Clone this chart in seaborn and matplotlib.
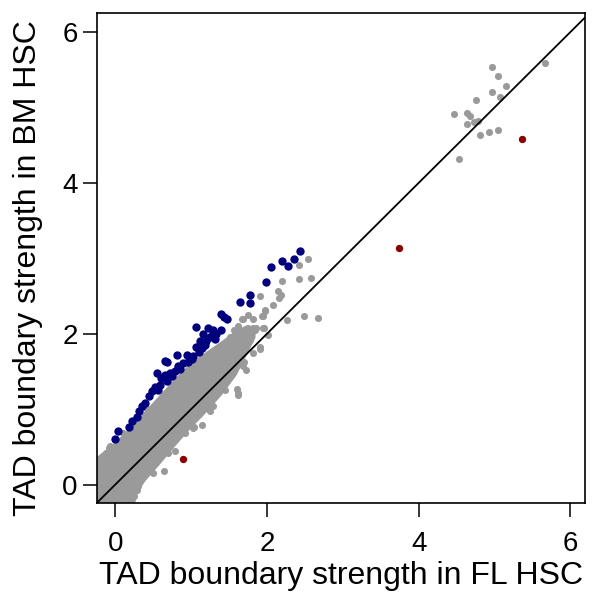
import numpy as np
import pandas as pd
import matplotlib
matplotlib.use("Agg")
import matplotlib.pyplot as plt
import seaborn as sns

# dense core of the grey cloud (outline)
band_x = [-0.3, -0.2, 0.0, 0.2, 0.4, 0.6, 0.8, 1.0, 1.2, 1.4, 1.6, 1.75, 1.85,
          1.85, 1.6, 1.4, 1.15, 1.0, 0.8, 0.6, 0.4, 0.3, 0.25, -0.3]
band_y = [0.32, 0.40, 0.56, 0.76, 0.98, 1.20, 1.42, 1.62, 1.76, 1.90, 2.05, 2.12, 2.08,
          1.95, 1.45, 1.18, 0.90, 0.75, 0.52, 0.28, 0.05, -0.10, -0.30, -0.30]

# grey boundaries outside the core
grey_x = [2.54, 2.42, 2.42, 2.58, 2.20, 2.14, 2.16, 1.91, 2.08, 1.98, 1.93, 1.75, 1.67,
          2.27, 2.49, 1.96, 1.82, 1.91, 1.61, 1.62, 1.04, 0.79, 0.64, 0.30, 0.25, -0.08,
          -0.20, 2.18, 1.97, 1.95, 1.82, 1.69, 1.62, 1.56, 1.73, 1.84, 1.95, 2.02, 1.51,
          1.69, 1.73, 1.62, 1.86, 1.78, 1.91, 1.82, 1.14, 0.92, 0.29, -0.07, 1.05, 1.29,
          1.03, 2.67, 1.45, 1.25, 0.70, 0.50, 0.40, -0.12, 0.10, 1.70,
          4.97, 5.05, 5.67, 5.15, 4.96, 5.07, 4.75, 4.46, 4.64, 4.68, 4.64, 4.73, 4.78,
          4.81, 4.92, 5.04, 4.53]
grey_y = [2.99, 2.91, 2.72, 2.74, 2.70, 2.57, 2.47, 2.50, 2.38, 2.32, 2.24, 2.25, 2.19,
          2.18, 2.24, 2.07, 2.08, 1.80, 1.27, 1.19, 0.76, 0.44, 0.18, -0.02, -0.15, 0.49,
          0.33, 2.52, 2.30, 2.23, 2.19, 2.19, 2.10, 2.05, 2.05, 2.05, 2.08, 1.99, 1.96,
          1.57, 1.52, 1.21, 2.08, 1.92, 1.83, 1.74, 0.79, 0.68, -0.07, 0.51, 0.95, 1.04,
          0.75, 2.21, 1.25, 0.98, 0.42, 0.15, 1.02, 0.42, 0.68, 1.62,
          5.54, 5.42, 5.59, 5.28, 5.21, 5.14, 5.10, 4.91, 4.92, 4.88, 4.78, 4.80, 4.82,
          4.63, 4.67, 4.70, 4.32]

# stronger in BM HSC
blue_x = [2.43, 2.36, 2.28, 2.20, 2.05, 1.99, 1.78, 1.78, 1.65, 1.40, 1.43, 1.48, 1.06,
          1.22, 1.29, 1.39, 1.16, 1.25, 1.31, 1.12, 1.18, 1.07, 1.14, 0.81, 0.66, 0.68,
          0.94, 1.01, 0.96, 0.90, 0.83, 0.79, 0.72, 0.66, 0.55, 0.61, 0.68, 0.59, 0.53,
          0.57, 0.48, 0.44, 0.39, 0.35, 0.31, 0.29, 0.22, 0.18, 0.04, 0.00,
          1.20, 1.27, 1.10, 0.86, 0.75, 1.33, 1.02]
blue_y = [3.10, 2.99, 2.90, 2.96, 2.88, 2.68, 2.51, 2.41, 2.42, 2.26, 2.22, 2.19, 2.09,
          2.08, 2.05, 2.05, 2.00, 1.96, 1.93, 1.90, 1.85, 1.83, 1.81, 1.72, 1.64, 1.62,
          1.72, 1.66, 1.63, 1.61, 1.57, 1.50, 1.48, 1.46, 1.48, 1.41, 1.37, 1.32, 1.30,
          1.26, 1.24, 1.17, 1.08, 1.04, 0.97, 0.90, 0.84, 0.77, 0.71, 0.60,
          1.90, 1.99, 1.76, 1.53, 1.44, 2.00, 1.70]

# stronger in FL HSC
red_x = [0.89, 3.74, 5.36]
red_y = [0.34, 3.14, 4.58]

sns.set_style("ticks")
plt.rcParams["font.family"] = ["Liberation Sans", "DejaVu Sans"]

fig = plt.figure(figsize=(5.95, 5.95), dpi=100)
ax = fig.add_axes([0.163, 0.155, 0.82, 0.823])

ax.fill(band_x, band_y, color="#9a9a9a", lw=0, zorder=1)
sns.scatterplot(x=grey_x, y=grey_y, color="#9a9a9a", s=26, linewidth=0, ax=ax, zorder=2)
ax.axline((0, 0), slope=1, color="black", lw=1.3, zorder=3)
sns.scatterplot(x=blue_x, y=blue_y, color="#00007f", s=36, linewidth=0, ax=ax, zorder=4)
sns.scatterplot(x=red_x, y=red_y, color="#8b0000", s=28, linewidth=0, ax=ax, zorder=5)

ax.set_xlim(-0.24, 6.19)
ax.set_ylim(-0.24, 6.25)
ax.set_xticks([0, 2, 4, 6])
ax.set_yticks([0, 2, 4, 6])
ax.tick_params(direction="out", length=10, width=1.1, labelsize=20, colors="black")
ax.tick_params(axis="x", pad=10)
ax.tick_params(axis="y", pad=4)
for sp in ax.spines.values():
    sp.set_visible(True)
    sp.set_linewidth(1.2)
    sp.set_color("black")

ax.set_xlabel("TAD boundary strength in FL HSC", fontsize=23, color="black")
ax.set_ylabel("TAD boundary strength in BM HSC", fontsize=23, color="black")
ax.xaxis.set_label_coords(0.501, -0.118)
ax.yaxis.set_label_coords(-0.111, 0.480)

fig.savefig("out.png", dpi=100)
